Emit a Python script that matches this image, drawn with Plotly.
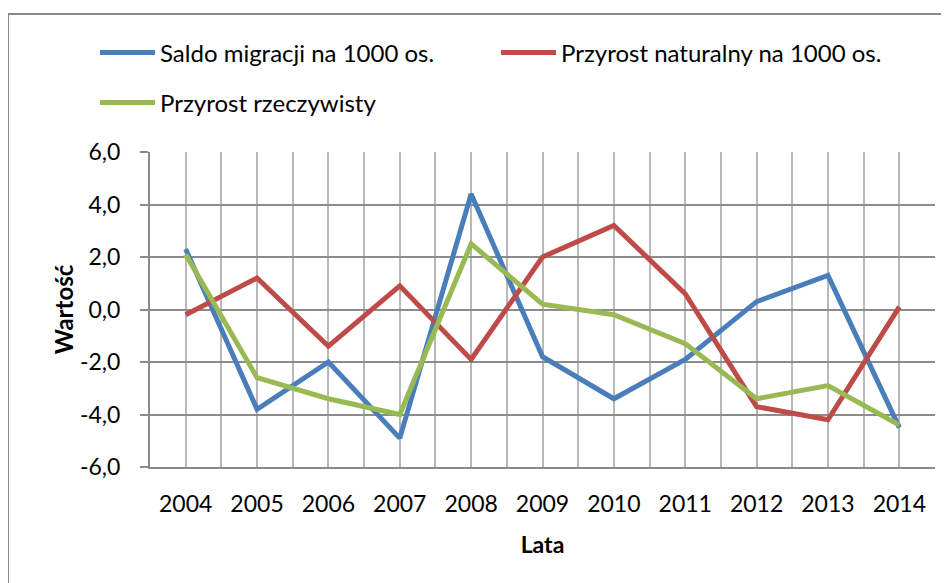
import plotly.graph_objects as go

years = [2004, 2005, 2006, 2007, 2008, 2009, 2010, 2011, 2012, 2013, 2014]
year_labels = [str(y) for y in years]
saldo_migracji = [2.3, -3.8, -2.0, -4.9, 4.4, -1.8, -3.4, -1.9, 0.3, 1.3, -4.5]
przyrost_naturalny = [-0.2, 1.2, -1.4, 0.9, -1.9, 2.0, 3.2, 0.6, -3.7, -4.2, 0.1]
przyrost_rzeczywisty = [2.1, -2.6, -3.4, -4.0, 2.5, 0.2, -0.2, -1.3, -3.4, -2.9, -4.4]
y_ticks = [-6, -4, -2, 0, 2, 4, 6]
y_tick_labels = [f"{v:.1f}".replace(".", ",") for v in y_ticks]

FONT = "Lato"
OFF = 8  # page body offset
W, H = 949, 583
L, R, T, B = 142, 22, 144, 124
PW, PH = W - L - R, H - T - B

def px(x):
    return (x - OFF - L) / PW

def py(y):
    return (H - B - (y - OFF)) / PH

fig = go.Figure()
fig.add_trace(go.Scatter(x=years, y=saldo_migracji, mode="lines",
                         name="Saldo migracji na 1000 os.",
                         line=dict(color="#4A7EBB", width=5), legend="legend"))
fig.add_trace(go.Scatter(x=years, y=przyrost_naturalny, mode="lines",
                         name="Przyrost naturalny na 1000 os.",
                         line=dict(color="#BE4B48", width=5), legend="legend"))
fig.add_trace(go.Scatter(x=years, y=przyrost_rzeczywisty, mode="lines",
                         name="Przyrost rzeczywisty",
                         line=dict(color="#98B954", width=5), legend="legend2"))

fig.update_layout(
    width=W, height=H,
    margin=dict(l=L, r=R, t=T, b=B, autoexpand=False),
    paper_bgcolor="white", plot_bgcolor="white",
    font=dict(family=FONT, size=23, color="black"),
    legend=dict(orientation="h", x=px(95), xanchor="left", y=py(53), yanchor="middle",
                entrywidth=331, entrywidthmode="pixels", itemwidth=55,
                font=dict(family=FONT, size=24), bgcolor="rgba(0,0,0,0)"),
    legend2=dict(orientation="h", x=px(95), xanchor="left", y=py(103), yanchor="middle",
                 itemwidth=55, font=dict(family=FONT, size=24), bgcolor="rgba(0,0,0,0)"),
    xaxis=dict(range=[2003.5, 2014.5], tickvals=years, ticktext=year_labels,
               showgrid=True, gridcolor="#B8B8B8", gridwidth=2,
               minor=dict(tick0=2003.5, dtick=1, showgrid=True, gridcolor="#B8B8B8", gridwidth=2),
               showline=True, linecolor="#8A8A8A", linewidth=2,
               ticks="", ticklabelstandoff=15, zeroline=False,
               title=dict(text="<b>Lata</b>", font=dict(family=FONT, size=23), standoff=21)),
    yaxis=dict(range=[-6, 6], tickvals=y_ticks, ticktext=y_tick_labels,
               showgrid=True, gridcolor="#8C8C8C", gridwidth=2,
               showline=True, linecolor="#8A8A8A", linewidth=2,
               ticks="outside", ticklen=8, tickcolor="#8A8A8A", tickwidth=2,
               ticklabelstandoff=15, zeroline=False,
               title=dict(text="<b>Wartość</b>", font=dict(family=FONT, size=24), standoff=0)),
    shapes=[dict(type="rect", xref="paper", yref="paper",
                 x0=px(8), x1=px(W + 20), y0=py(H + 20), y1=py(14),
                 line=dict(color="#8A8A8A", width=2), fillcolor="rgba(0,0,0,0)", layer="below")],
)

fig.write_html("out.html")
